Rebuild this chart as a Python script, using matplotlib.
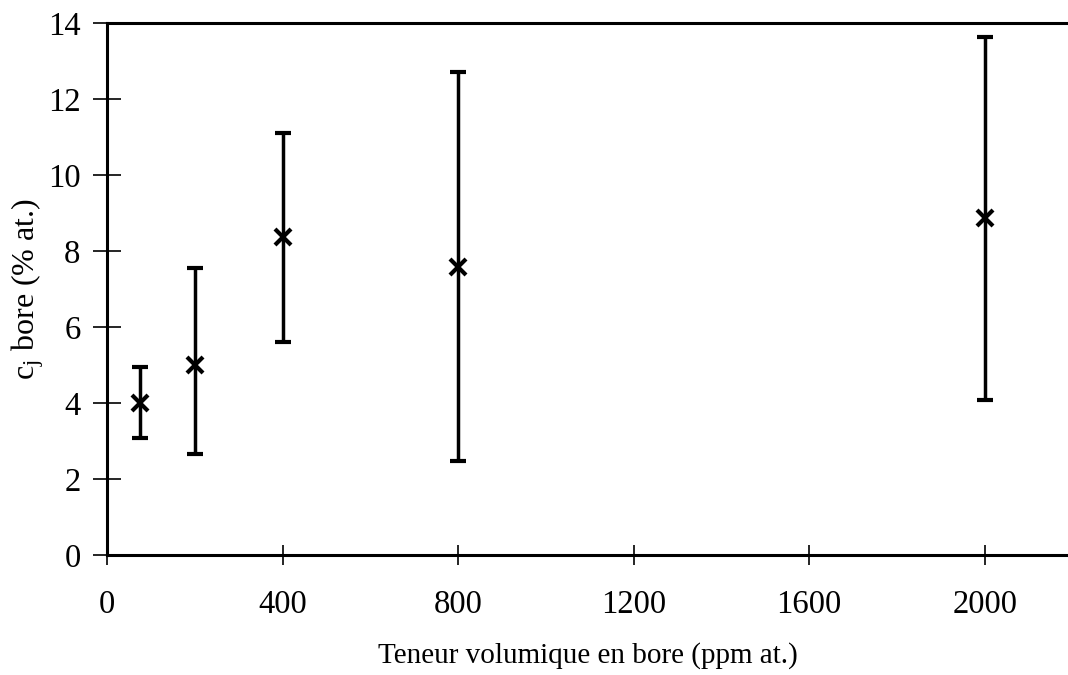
import numpy as np
import matplotlib.pyplot as plt

# teneur en bore (ppm at.) et c_j (% at.)
teneur = [75, 200, 400, 800, 2000]
cj = [4.0, 5.0, 8.37, 7.58, 8.87]
cj_min = [3.07, 2.66, 5.6, 2.47, 4.08]
cj_max = [4.95, 7.55, 11.1, 12.71, 13.63]

xticks = [0, 400, 800, 1200, 1600, 2000]
yticks = [0, 2, 4, 6, 8, 10, 12, 14]

plt.rcParams['font.family'] = ['Liberation Serif', 'DejaVu Serif']
plt.rcParams['mathtext.fontset'] = 'custom'
plt.rcParams['mathtext.rm'] = 'Liberation Serif'
plt.rcParams['mathtext.it'] = 'Liberation Serif'

fig = plt.figure(figsize=(10.68, 6.75), dpi=100)
ax = fig.add_axes([0.1002, 0.178, 0.8998, 0.788])

cj = np.array(cj)
err = [cj - np.array(cj_min), np.array(cj_max) - cj]
ax.errorbar(teneur, cj, yerr=err, fmt='x', color='black', ms=11, mew=3,
            elinewidth=2.5, capsize=6, capthick=3.5)

ax.set_xlim(0, 2190)
ax.set_ylim(0, 14)
ax.set_xticks(xticks)
ax.set_yticks(yticks)
ax.tick_params(direction='inout', length=20, width=1.2, labelsize=23.5, pad=9)
ax.tick_params(axis='x', length=14, pad=18)
ax.spines['right'].set_visible(False)
for s in ['left', 'bottom', 'top']:
    ax.spines[s].set_linewidth(2.2)

ax.set_xlabel('Teneur volumique en bore (ppm at.)', fontsize=21, labelpad=16)
ax.set_ylabel(r'c$_{\mathrm{j}}$ bore (% at.)', fontsize=23)
ax.yaxis.set_label_coords(-0.0635, 0.5)

fig.savefig('out.png', dpi=100)
